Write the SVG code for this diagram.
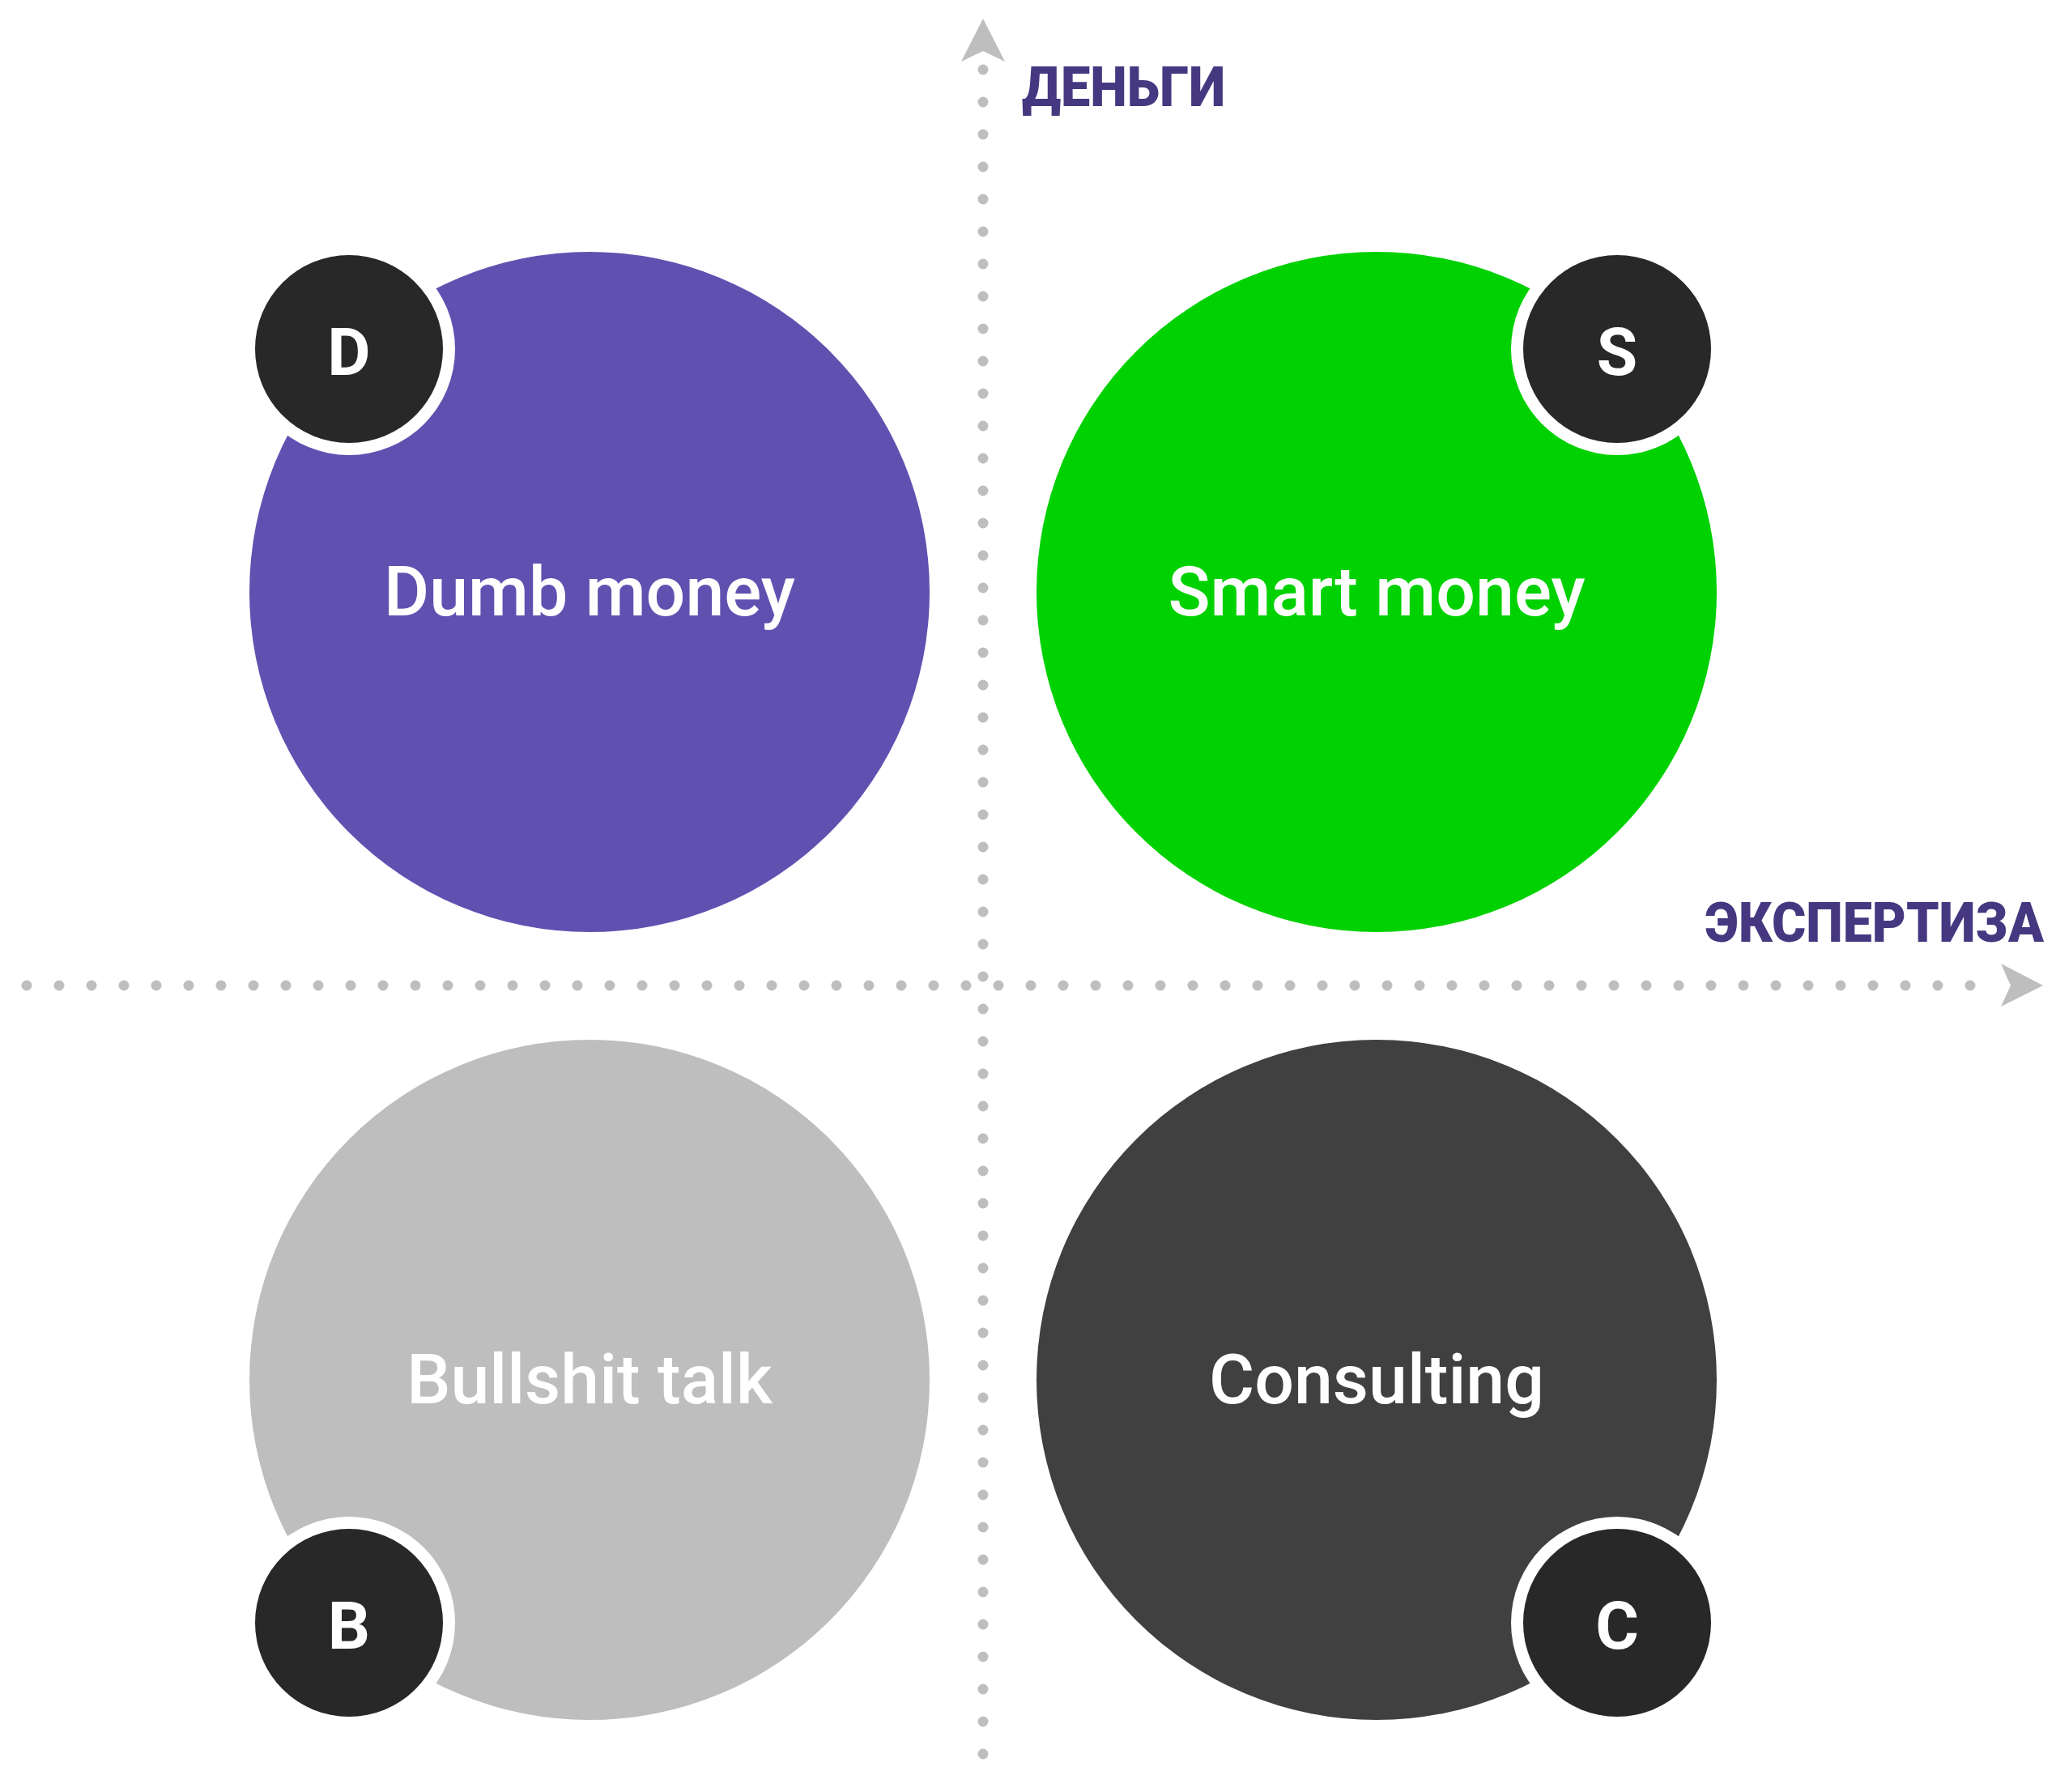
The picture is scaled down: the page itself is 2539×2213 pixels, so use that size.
<svg xmlns="http://www.w3.org/2000/svg" width="2539" height="2213" viewBox="0 0 2539 2213">
<style>
.dots{fill:none;stroke:#BEBEBE;stroke-width:13;stroke-linecap:round;stroke-dasharray:0 40}
.arrow{fill:#BEBEBE}
.axis{font-family:Roboto,"Liberation Sans",sans-serif;font-weight:900;font-size:68px;fill:#453880}
.label{font-family:Roboto,"Liberation Sans",sans-serif;font-weight:500;font-size:86px;fill:#FFFFFF;text-anchor:middle}
.ring{fill:#FFFFFF}
.badge{fill:#282828}
.letter{font-family:Roboto,"Liberation Sans",sans-serif;font-weight:bold;font-size:82px;fill:#FFFFFF;text-anchor:middle}
</style>
<rect width="2539" height="2213" fill="#FFFFFF"/>
<g id="connectors">
<line class="dots" x1="33" y1="1217" x2="2473" y2="1217"/>
<line class="dots" x1="1214" y1="86" x2="1214" y2="2206"/>
<polygon class="arrow" points="2471,1190 2523,1217 2471,1243 2483,1217"/>
<polygon class="arrow" points="1214,23 1241,76 1214,63 1187,76"/>
<text class="axis" x="1262" y="131" textLength="251" lengthAdjust="spacingAndGlyphs">ДЕНЬГИ</text>
<text class="axis" x="2106" y="1163" textLength="418" lengthAdjust="spacingAndGlyphs">ЭКСПЕРТИЗА</text>
</g>
<g id="dumb-money">
<circle cx="728" cy="731" r="420" fill="#6051B1"/>
<text class="label" x="728" y="760">Dumb money</text>
<circle class="ring" cx="431" cy="431" r="131"/>
<circle class="badge" cx="431" cy="431" r="116"/>
<text class="letter" x="431" y="463">D</text>
</g>
<g id="smart-money">
<circle cx="1700" cy="731" r="420" fill="#00D100"/>
<text class="label" x="1700" y="760">Smart money</text>
<circle class="ring" cx="1997" cy="431" r="131"/>
<circle class="badge" cx="1997" cy="431" r="116"/>
<text class="letter" x="1997" y="463">S</text>
</g>
<g id="bullshit-talk">
<circle cx="728" cy="1704" r="420" fill="#BEBEBE"/>
<text class="label" x="728" y="1733">Bullshit talk</text>
<circle class="ring" cx="431" cy="2004" r="131"/>
<circle class="badge" cx="431" cy="2004" r="116"/>
<text class="letter" x="431" y="2036">B</text>
</g>
<g id="consulting">
<circle cx="1700" cy="1704" r="420" fill="#404040"/>
<text class="label" x="1700" y="1733">Consulting</text>
<circle class="ring" cx="1997" cy="2004" r="131"/>
<circle class="badge" cx="1997" cy="2004" r="116"/>
<text class="letter" x="1997" y="2036">C</text>
</g>
</svg>
